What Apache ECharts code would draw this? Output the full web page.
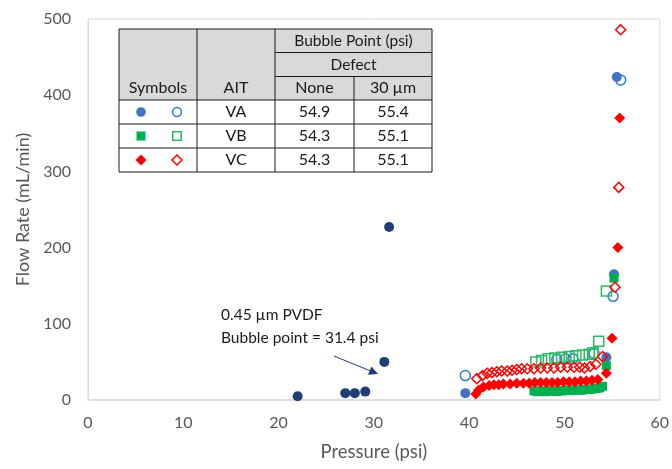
<!DOCTYPE html>
<html><head><meta charset="utf-8">
<script src="https://cdn.jsdelivr.net/npm/echarts@6/dist/echarts.min.js"></script>
<style>html,body{margin:0;padding:0;background:#fff}#c{width:672px;height:469px}</style>
</head><body><div id="c"></div>
<script>
// ---- data ----
const pvdf = [[22.0,5],[27.0,9],[28.0,9],[29.1,11],[31.1,50],[31.6,227]];
const vaNone = [[39.6,9],[54.4,56],[55.2,165],[55.5,424]];
const vaDefect = [[39.6,32],[49.2,53],[50.1,54],[50.9,54],[53.1,61],[55.1,136],[55.9,420]];
const vbNone = [[46.8,12],[47.1,11],[47.4,11],[47.7,12],[48.0,11],[48.3,12],[48.6,12],[48.9,12],[49.2,11],[49.5,12],[49.8,12],[50.1,13],[50.4,13],[50.7,13],[51.0,13],[51.3,13],[51.6,13],[51.9,13],[52.2,14],[52.5,14],[52.8,14],[53.1,15],[53.4,15],[53.7,16],[54.0,18],[54.4,45],[55.2,160]];
const vbDefect = [[47.0,50],[47.6,52],[48.3,54],[49.0,55],[49.7,56],[50.5,57],[51.2,58],[51.9,59],[52.6,60],[53.0,62],[53.6,77],[54.4,143]];
const vcNone = [[40.7,8],[41.0,13],[41.5,17],[42.1,19],[42.6,20],[43.1,20],[43.6,21],[44.3,21],[45.0,22],[45.7,22],[46.3,22],[46.9,23],[47.5,23],[48.1,23],[48.7,23],[49.3,23],[49.9,24],[50.5,24],[51.1,24],[51.7,25],[52.3,25],[52.9,26],[53.5,27],[54.4,35],[55.0,81],[55.6,200],[55.8,370]];
const vcDefect = [[40.8,28],[41.4,32],[41.9,35],[42.4,36],[42.9,37],[43.4,38],[44.0,38],[44.5,39],[45.0,40],[45.5,41],[46.1,41],[46.8,41],[47.5,42],[48.2,42],[48.9,42],[49.6,43],[50.3,43],[51.0,43],[51.6,43],[52.1,42],[52.7,44],[53.3,47],[54.0,57],[55.3,148],[55.7,279],[55.9,486]];

const tableHeader = ['Symbols','AIT','None','30 µm'];
const tableAIT = ['VA','VB','VC'];
const bpNone = ['54.9','54.3','54.3'];
const bpDefect = ['55.4','55.1','55.1'];
const annotLines = ['0.45 µm PVDF','Bubble point = 31.4 psi'];

// ---- styles ----
const FONT = 'Lato';
const C_PVDF = '#203D76', C_VA = '#4472C4', C_VAo = '#2E7EC6', C_VB = '#00B050', C_VBo = '#2DBA64', C_VC = '#FF0000';
const TXT = '#595959';

function filled(name, data, symbol, color, size){
  return {name, type:'scatter', data, symbol, symbolSize:size, itemStyle:{color, opacity:1}};
}
function open(name, data, symbol, color, size){
  return {name, type:'scatter', data, symbol, symbolSize:size, itemStyle:{color:'rgba(255,255,255,0)', borderColor:color, borderWidth:1.5, opacity:1}};
}

// ---- table graphic ----
const tL=119, tR=432, tT=29, tB=172;
const colX=[119,197,275,354,432];
const rowY=[29,52.5,76.5,100,124,148,172];
const g=[];
g.push({type:'rect', shape:{x:tL,y:tT,width:tR-tL,height:rowY[3]-tT}, style:{fill:'#D9D9D9'}, z:10});
g.push({type:'rect', shape:{x:tL,y:rowY[3],width:tR-tL,height:tB-rowY[3]}, style:{fill:'#FFFFFF'}, z:10});
function ln(x1,y1,x2,y2){ g.push({type:'line', shape:{x1,y1,x2,y2}, style:{stroke:'#1a1a1a', lineWidth:1}, z:11}); }
ln(tL,tT,tR,tT); ln(tL,tB,tR,tB); ln(tL,tT,tL,tB); ln(tR,tT,tR,tB);
ln(colX[1],tT,colX[1],tB); ln(colX[2],tT,colX[2],tB); ln(colX[3],rowY[2],colX[3],tB);
ln(colX[2],rowY[1],tR,rowY[1]); ln(colX[2],rowY[2],tR,rowY[2]);
for(let i=3;i<6;i++) ln(tL,rowY[i],tR,rowY[i]);
function tx(text,x,y,size){ g.push({type:'text', x, y, style:{text, fill:'#1a1a1a', font:size+'px '+FONT, textAlign:'center', textVerticalAlign:'middle'}, z:12}); }
tx('Bubble Point (psi)', (colX[2]+tR)/2, (rowY[0]+rowY[1])/2, 15.5);
tx('Defect', (colX[2]+tR)/2, (rowY[1]+rowY[2])/2, 15.5);
tableHeader.forEach((h,i)=>tx(h,(colX[i]+colX[i+1])/2,(rowY[2]+rowY[3])/2,16));
for(let r=0;r<3;r++){
  const cy=(rowY[3+r]+rowY[4+r])/2;
  tx(tableAIT[r],(colX[1]+colX[2])/2,cy,16);
  tx(bpNone[r],(colX[2]+colX[3])/2,cy,16);
  tx(bpDefect[r],(colX[3]+colX[4])/2,cy,16);
}
const sx1=141, sx2=177;
const cy0=(rowY[3]+rowY[4])/2, cy1=(rowY[4]+rowY[5])/2, cy2=(rowY[5]+rowY[6])/2;
g.push({type:'circle', shape:{cx:sx1,cy:cy0,r:4.8}, style:{fill:C_VA}, z:12});
g.push({type:'circle', shape:{cx:sx2,cy:cy0,r:4.5}, style:{fill:'none',stroke:C_VAo,lineWidth:1.5}, z:12});
g.push({type:'rect', shape:{x:sx1-4.5,y:cy1-4.5,width:9,height:9}, style:{fill:C_VB}, z:12});
g.push({type:'rect', shape:{x:sx2-4.2,y:cy1-4.2,width:8.4,height:8.4}, style:{fill:'none',stroke:C_VBo,lineWidth:1.5}, z:12});
g.push({type:'polygon', shape:{points:[[sx1,cy2-5.5],[sx1+5.5,cy2],[sx1,cy2+5.5],[sx1-5.5,cy2]]}, style:{fill:C_VC}, z:12});
g.push({type:'polygon', shape:{points:[[sx2,cy2-5],[sx2+5,cy2],[sx2,cy2+5],[sx2-5,cy2]]}, style:{fill:'none',stroke:C_VC,lineWidth:1.5}, z:12});

// annotation
g.push({type:'text', x:221, y:315, style:{text:annotLines[0], fill:'#1a1a1a', font:'15.5px '+FONT, textAlign:'left', textVerticalAlign:'middle'}, z:12});
g.push({type:'text', x:221, y:338, style:{text:annotLines[1], fill:'#1a1a1a', font:'15.5px '+FONT, textAlign:'left', textVerticalAlign:'middle'}, z:12});
const ax1=334, ay1=356, ax2=378, ay2=374;
const ang=Math.atan2(ay2-ay1, ax2-ax1), hl=9, hw=4.5;
const bx=ax2-hl*Math.cos(ang), by=ay2-hl*Math.sin(ang);
g.push({type:'line', shape:{x1:ax1,y1:ay1,x2:bx,y2:by}, style:{stroke:C_PVDF,lineWidth:1}, z:12});
g.push({type:'polygon', shape:{points:[[ax2,ay2],[bx+hw*Math.sin(ang),by-hw*Math.cos(ang)],[bx-hw*Math.sin(ang),by+hw*Math.cos(ang)]]}, style:{fill:C_PVDF}, z:12});

const chart = echarts.init(document.getElementById('c'), null, {renderer:'canvas'});
chart.setOption({
  animation:false,
  backgroundColor:'#fff',
  textStyle:{fontFamily:FONT},
  grid:{left:88, right:8, top:19, bottom:69, show:true, borderColor:'#D9D9D9', borderWidth:1, containLabel:false},
  xAxis:{type:'value', min:0, max:60, interval:10,
    name:'Pressure (psi)', nameLocation:'middle', nameGap:43,
    nameTextStyle:{fontSize:18.5, color:TXT, fontFamily:FONT},
    axisLine:{show:true, lineStyle:{color:'#D9D9D9', width:1.5}}, axisTick:{show:false},
    axisLabel:{fontSize:16, color:TXT, margin:15, fontFamily:FONT}, splitLine:{show:false}},
  yAxis:{type:'value', min:0, max:500, interval:100,
    name:'Flow Rate (mL/min)', nameLocation:'middle', nameGap:55, nameRotate:90,
    nameTextStyle:{fontSize:18, color:TXT, fontFamily:FONT},
    axisLine:{show:true, lineStyle:{color:'#D9D9D9', width:1}}, axisTick:{show:false},
    axisLabel:{fontSize:16, color:TXT, margin:17, fontFamily:FONT}, splitLine:{show:false}},
  series:[
    filled('PVDF', pvdf, 'circle', C_PVDF, 10),
    filled('VA None', vaNone, 'circle', C_VA, 10),
    open('VA 30um', vaDefect, 'circle', C_VAo, 10),
    filled('VB None', vbNone, 'rect', C_VB, 9),
    open('VB 30um', vbDefect, 'rect', C_VBo, 10),
    filled('VC None', vcNone, 'diamond', C_VC, 11),
    open('VC 30um', vcDefect, 'diamond', C_VC, 10)
  ],
  graphic:g
});
</script></body></html>
